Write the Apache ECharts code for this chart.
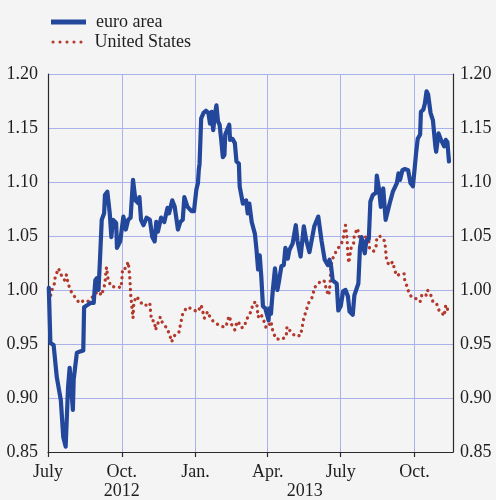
<!DOCTYPE html>
<html>
<head>
<meta charset="utf-8">
<script src="https://cdn.jsdelivr.net/npm/echarts@6/dist/echarts.min.js"></script>
<style>
html,body{margin:0;padding:0;background:#f4f4f4;}
#chart{width:496px;height:500px;}
</style>
</head>
<body>
<div id="chart"></div>
<script>
const euroDates = ['2012-07-02','2012-07-04','2012-07-08','2012-07-12','2012-07-17','2012-07-20','2012-07-23','2012-07-26','2012-07-28','2012-08-01','2012-08-02','2012-08-06','2012-08-10','2012-08-14','2012-08-15','2012-08-19','2012-08-23','2012-08-27','2012-08-29','2012-08-31','2012-09-02','2012-09-04','2012-09-06','2012-09-09','2012-09-10','2012-09-13','2012-09-16','2012-09-18','2012-09-20','2012-09-24','2012-09-25','2012-09-29','2012-10-03','2012-10-06','2012-10-09','2012-10-12','2012-10-15','2012-10-18','2012-10-22','2012-10-23','2012-10-25','2012-10-28','2012-11-01','2012-11-05','2012-11-08','2012-11-11','2012-11-13','2012-11-15','2012-11-19','2012-11-23','2012-11-27','2012-11-29','2012-12-03','2012-12-06','2012-12-10','2012-12-13','2012-12-16','2012-12-18','2012-12-22','2012-12-27','2012-12-30','2013-01-02','2013-01-04','2013-01-05','2013-01-06','2013-01-08','2013-01-11','2013-01-14','2013-01-17','2013-01-19','2013-01-21','2013-01-23','2013-01-25','2013-01-27','2013-01-29','2013-01-31','2013-02-02','2013-02-04','2013-02-06','2013-02-07','2013-02-09','2013-02-12','2013-02-13','2013-02-16','2013-02-19','2013-02-21','2013-02-24','2013-02-25','2013-02-27','2013-03-01','2013-03-05','2013-03-07','2013-03-09','2013-03-12','2013-03-16','2013-03-18','2013-03-20','2013-03-22','2013-03-24','2013-03-26','2013-03-29','2013-04-02','2013-04-03','2013-04-05','2013-04-07','2013-04-10','2013-04-12','2013-04-13','2013-04-15','2013-04-18','2013-04-21','2013-04-23','2013-04-26','2013-04-28','2013-05-02','2013-05-06','2013-05-08','2013-05-12','2013-05-16','2013-05-19','2013-05-23','2013-05-29','2013-06-03','2013-06-07','2013-06-11','2013-06-15','2013-06-17','2013-06-19','2013-06-21','2013-06-26','2013-06-28','2013-07-01','2013-07-04','2013-07-07','2013-07-10','2013-07-12','2013-07-16','2013-07-18','2013-07-23','2013-07-25','2013-07-27','2013-07-29','2013-07-31','2013-08-02','2013-08-05','2013-08-07','2013-08-10','2013-08-14','2013-08-15','2013-08-18','2013-08-20','2013-08-23','2013-08-26','2013-08-31','2013-09-04','2013-09-09','2013-09-11','2013-09-13','2013-09-16','2013-09-19','2013-09-23','2013-09-26','2013-09-29','2013-10-01','2013-10-03','2013-10-05','2013-10-08','2013-10-09','2013-10-12','2013-10-14','2013-10-16','2013-10-18','2013-10-21','2013-10-24','2013-10-27','2013-10-28','2013-10-31','2013-11-03','2013-11-05','2013-11-07','2013-11-09','2013-11-11','2013-11-13'];
const euroValues = [1.002,0.951,0.949,0.919,0.898,0.864,0.855,0.910,0.928,0.889,0.917,0.942,0.943,0.944,0.984,0.986,0.988,0.988,1.009,1.011,1.000,1.031,1.065,1.071,1.088,1.091,1.071,1.049,1.065,1.062,1.039,1.045,1.068,1.056,1.065,1.067,1.102,1.083,1.080,1.086,1.065,1.060,1.067,1.065,1.049,1.045,1.063,1.054,1.067,1.063,1.076,1.071,1.083,1.077,1.056,1.063,1.065,1.086,1.077,1.073,1.073,1.093,1.099,1.111,1.117,1.159,1.164,1.166,1.164,1.154,1.165,1.148,1.162,1.171,1.156,1.153,1.139,1.123,1.125,1.144,1.145,1.153,1.139,1.140,1.136,1.119,1.117,1.096,1.097,1.080,1.083,1.071,1.080,1.063,1.052,1.037,1.019,1.032,1.012,0.985,0.983,0.972,0.983,0.978,0.997,1.020,1.020,1.000,1.008,1.022,1.023,1.039,1.029,1.037,1.043,1.060,1.046,1.031,1.059,1.046,1.035,1.059,1.068,1.046,1.028,1.023,1.028,1.022,1.009,1.006,0.981,0.985,0.999,1.000,0.994,0.980,0.977,0.995,1.006,1.039,1.049,1.040,1.034,1.046,1.047,1.082,1.088,1.090,1.106,1.092,1.077,1.094,1.065,1.080,1.091,1.099,1.108,1.102,1.111,1.112,1.111,1.099,1.096,1.111,1.127,1.140,1.144,1.165,1.167,1.173,1.184,1.181,1.164,1.157,1.133,1.128,1.145,1.139,1.140,1.133,1.139,1.137,1.119];

const usDates = ['2012-07-02','2012-07-04','2012-07-06','2012-07-09','2012-07-10','2012-07-14','2012-07-17','2012-07-19','2012-07-22','2012-07-24','2012-07-26','2012-07-29','2012-07-31','2012-08-05','2012-08-09','2012-08-14','2012-08-19','2012-08-22','2012-08-26','2012-08-30','2012-09-02','2012-09-04','2012-09-05','2012-09-08','2012-09-10','2012-09-11','2012-09-12','2012-09-14','2012-09-18','2012-09-22','2012-09-27','2012-09-30','2012-10-01','2012-10-02','2012-10-06','2012-10-09','2012-10-11','2012-10-12','2012-10-13','2012-10-15','2012-10-16','2012-10-19','2012-10-23','2012-10-27','2012-11-01','2012-11-05','2012-11-06','2012-11-07','2012-11-11','2012-11-12','2012-11-15','2012-11-18','2012-11-21','2012-11-26','2012-11-30','2012-12-02','2012-12-06','2012-12-11','2012-12-14','2012-12-16','2012-12-21','2012-12-26','2012-12-31','2013-01-04','2013-01-08','2013-01-10','2013-01-12','2013-01-16','2013-01-19','2013-01-23','2013-01-29','2013-02-04','2013-02-08','2013-02-10','2013-02-12','2013-02-15','2013-02-19','2013-02-21','2013-02-23','2013-02-27','2013-03-03','2013-03-05','2013-03-09','2013-03-11','2013-03-14','2013-03-18','2013-03-20','2013-03-23','2013-03-26','2013-03-30','2013-04-03','2013-04-05','2013-04-07','2013-04-11','2013-04-18','2013-04-24','2013-04-25','2013-05-01','2013-05-06','2013-05-12','2013-05-14','2013-05-16','2013-05-19','2013-05-22','2013-05-27','2013-05-29','2013-05-31','2013-06-07','2013-06-11','2013-06-13','2013-06-16','2013-06-17','2013-06-18','2013-06-19','2013-06-21','2013-06-26','2013-06-30','2013-07-04','2013-07-05','2013-07-07','2013-07-09','2013-07-10','2013-07-11','2013-07-14','2013-07-17','2013-07-18','2013-07-22','2013-07-25','2013-07-30','2013-08-01','2013-08-05','2013-08-06','2013-08-11','2013-08-14','2013-08-15','2013-08-18','2013-08-21','2013-08-25','2013-08-27','2013-08-30','2013-09-04','2013-09-06','2013-09-09','2013-09-13','2013-09-18','2013-09-19','2013-09-22','2013-09-24','2013-09-28','2013-10-03','2013-10-08','2013-10-10','2013-10-15','2013-10-17','2013-10-21','2013-10-24','2013-10-28','2013-10-30','2013-11-01','2013-11-05','2013-11-07','2013-11-09','2013-11-11','2013-11-12'];
const usValues = [0.998,0.994,1.000,1.006,1.012,1.020,1.015,1.011,1.009,1.014,1.006,1.000,0.997,0.992,0.988,0.990,0.989,0.991,0.994,0.997,1.002,1.003,0.995,1.000,1.006,1.015,1.021,1.009,1.003,1.003,1.003,1.002,1.008,1.020,1.020,1.026,1.012,0.997,0.989,0.974,0.988,0.994,0.991,0.986,0.986,0.988,0.980,0.972,0.971,0.963,0.969,0.975,0.969,0.965,0.958,0.952,0.958,0.960,0.971,0.978,0.984,0.983,0.981,0.980,0.986,0.980,0.974,0.980,0.975,0.971,0.968,0.966,0.966,0.972,0.976,0.968,0.963,0.969,0.971,0.965,0.966,0.972,0.977,0.980,0.988,0.989,0.975,0.978,0.974,0.965,0.968,0.971,0.963,0.955,0.954,0.957,0.966,0.960,0.957,0.958,0.966,0.974,0.981,0.988,0.994,1.002,1.003,1.009,1.008,1.000,0.995,1.000,1.010,1.023,1.029,1.037,1.041,1.046,1.053,1.060,1.047,1.032,1.025,1.039,1.043,1.051,1.057,1.045,1.042,1.049,1.045,1.038,1.036,1.040,1.048,1.050,1.049,1.045,1.029,1.023,1.026,1.019,1.013,1.015,1.015,1.008,1.003,0.997,0.993,0.992,0.989,0.995,0.994,1.000,0.996,0.989,0.988,0.985,0.980,0.978,0.976,0.986,0.983,0.978];

const monthTickDates = ['2012-07-01','2012-10-01','2013-01-01','2013-04-01','2013-07-01','2013-10-01'];
const monthTickLabels = ['July','Oct.','Jan.','Apr.','July','Oct.'];
const yearLabelDates = ['2012-10-01','2013-05-17'];
const yearLabels = ['2012','2013'];
const yTickValues = ['0.85','0.90','0.95','1.00','1.05','1.10','1.15','1.20'];

const seriesNames = ['euro area','United States'];

const ts = d => Date.parse(d + 'T00:00:00Z');
const xMin = ts('2012-07-01');
const xMax = ts('2013-11-18');
const monthTicks = monthTickDates.map(ts);
const yearTicks = yearLabelDates.map(ts);

const FONT = 'Liberation Serif';
const TXT = '#1f1f1f';
const GRID = '#aab2ee';
const AXIS = '#2a2a2a';
const BLUE = '#23479b';
const RED = '#b2392c';

const dotsPath = 'path://M0,5a5,5 0 1,0 10,0a5,5 0 1,0 -10,0z' +
  'M22.5,5a5,5 0 1,0 10,0a5,5 0 1,0 -10,0z' +
  'M45,5a5,5 0 1,0 10,0a5,5 0 1,0 -10,0z' +
  'M67.5,5a5,5 0 1,0 10,0a5,5 0 1,0 -10,0z' +
  'M90,5a5,5 0 1,0 10,0a5,5 0 1,0 -10,0z';

const chart = echarts.init(document.getElementById('chart'), null, {renderer: 'canvas'});
const yAxisCommon = {
  type: 'value', min: 0.85, max: 1.20, interval: 0.05,
  axisLine: {show: true, lineStyle: {color: AXIS, width: 1.2}},
  axisTick: {show: false},
  axisLabel: {fontFamily: FONT, fontSize: 18, color: TXT,
    formatter: v => { const s = v.toFixed(2); return yTickValues.indexOf(s) >= 0 ? s : ''; }}
};
chart.setOption({
  backgroundColor: '#f4f4f4',
  animation: false,
  grid: {left: 48, right: 43, top: 74, bottom: 48, containLabel: false, outerBoundsMode: 'none'},
  legend: [
    {data: [{name: seriesNames[0], icon: 'rect'}], left: 46, top: 6, orient: 'vertical',
     itemWidth: 35, itemHeight: 5, selectedMode: false,
     textStyle: {fontFamily: FONT, fontSize: 18, color: TXT, lineHeight: 22, padding: [0,0,0,5]}},
    {data: [{name: seriesNames[1], icon: dotsPath}], left: 46.5, top: 26, orient: 'vertical',
     itemWidth: 31, itemHeight: 3.1, selectedMode: false,
     textStyle: {fontFamily: FONT, fontSize: 18, color: TXT, lineHeight: 22, padding: [0,0,0,7]}}
  ],
  xAxis: [
    {type: 'value', min: xMin, max: xMax, position: 'bottom',
     axisLine: {show: true, onZero: false, lineStyle: {color: AXIS, width: 1.2}},
     axisTick: {show: true, customValues: monthTicks, length: 5, inside: false, lineStyle: {color: AXIS, width: 1.2}},
     splitLine: {show: true, lineStyle: {color: GRID, width: 1}},
     axisLabel: {customValues: monthTicks, margin: 11, fontFamily: FONT, fontSize: 18, color: TXT,
       formatter: v => { const i = monthTicks.indexOf(v); return i >= 0 ? monthTickLabels[i] : ''; }}},
    {type: 'value', min: xMin, max: xMax, position: 'bottom', offset: 19,
     axisLine: {show: false}, axisTick: {show: false}, splitLine: {show: false},
     axisLabel: {customValues: yearTicks, margin: 11, fontFamily: FONT, fontSize: 18, color: TXT,
       formatter: v => { const i = yearTicks.indexOf(v); return i >= 0 ? yearLabels[i] : ''; }}}
  ],
  yAxis: [
    Object.assign({}, yAxisCommon, {position: 'left',
      splitLine: {show: true, lineStyle: {color: GRID, width: 1}},
      axisLabel: Object.assign({}, yAxisCommon.axisLabel, {margin: 10})}),
    Object.assign({}, yAxisCommon, {position: 'right', splitLine: {show: false},
      axisLabel: Object.assign({}, yAxisCommon.axisLabel, {margin: 7})})
  ],
  series: [
    {name: seriesNames[0], type: 'line', xAxisIndex: 0, yAxisIndex: 0, showSymbol: false, symbol: 'none',
     data: euroDates.map((d, i) => [ts(d), euroValues[i]]),
     itemStyle: {color: BLUE},
     lineStyle: {color: BLUE, width: 4.2, join: 'round', cap: 'round'}, z: 3},
    {name: seriesNames[1], type: 'line', xAxisIndex: 0, yAxisIndex: 0, showSymbol: false, symbol: 'none',
     data: usDates.map((d, i) => [ts(d), usValues[i]]),
     itemStyle: {color: RED},
     lineStyle: {color: RED, width: 3.3, type: [0.1, 5.8], cap: 'round', join: 'round'}, z: 2}
  ]
});
</script>
</body>
</html>
